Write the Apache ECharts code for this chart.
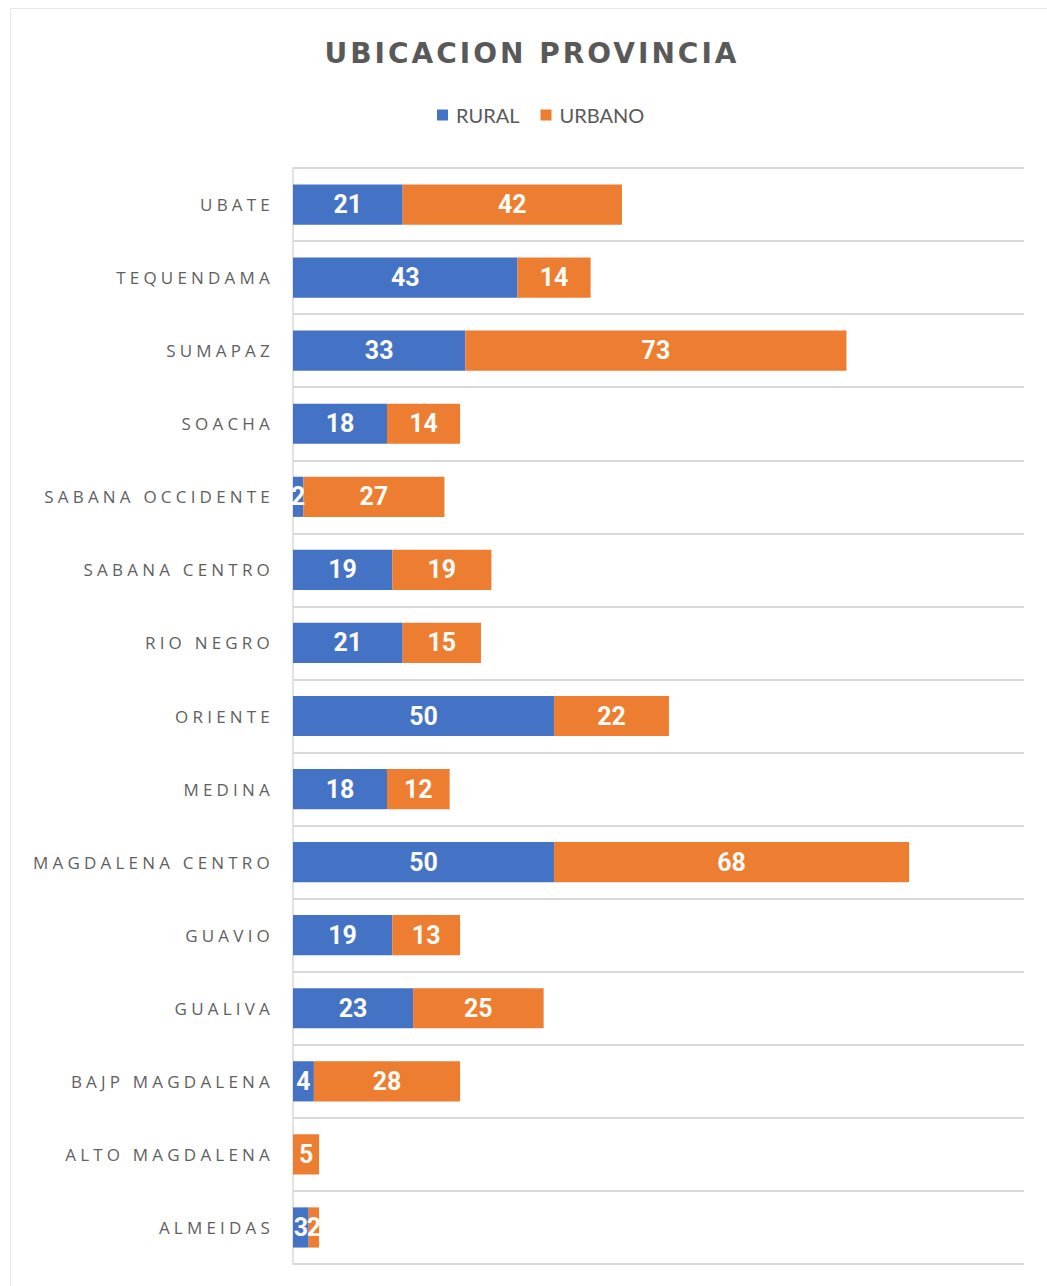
<!DOCTYPE html>
<html>
<head>
<meta charset="utf-8">
<script src="https://cdn.jsdelivr.net/npm/echarts@6/dist/echarts.min.js"></script>
<style>
html,body{margin:0;padding:0;background:#fff;}
#frame{position:absolute;left:10px;top:8px;width:1040px;height:1280px;border:1px solid #e6e6e6;box-sizing:border-box;}
#chart{position:absolute;left:0;top:0;width:1047px;height:1286px;}
#chart text[style*="Open Sans"]{letter-spacing:4.2px;}
#chart text[style*="DejaVu Sans"]{letter-spacing:3px;}
</style>
</head>
<body>
<div id="frame"></div>
<div id="chart"></div>
<script>
const categories = ["ALMEIDAS","ALTO MAGDALENA","BAJP MAGDALENA","GUALIVA","GUAVIO","MAGDALENA CENTRO","MEDINA","ORIENTE","RIO NEGRO","SABANA CENTRO","SABANA OCCIDENTE","SOACHA","SUMAPAZ","TEQUENDAMA","UBATE"];
const rural = [3,0,4,23,19,50,18,50,21,19,2,18,33,43,21];
const urbano = [2,5,28,25,13,68,12,22,15,19,27,14,73,14,42];

const chart = echarts.init(document.getElementById('chart'), null, {renderer: 'svg'});
const labelStyle = {
  show: true,
  position: 'inside',
  color: '#fbfbf5',
  fontSize: 25,
  fontWeight: 'bold',
  fontFamily: '"Liberation Sans Narrow","Arial Narrow",Roboto,sans-serif',
  formatter: p => (p.value === 0 ? '' : String(p.value))
};
chart.setOption({
  animation: false,
  backgroundColor: 'transparent',
  title: {
    text: 'UBICACION PROVINCIA',
    left: 527, top: 34, textAlign: 'center',
    textStyle: {color: '#595959', fontSize: 28, fontWeight: 'bold', fontFamily: '"DejaVu Sans",sans-serif'}
  },
  legend: {
    data: ['RURAL','URBANO'],
    left: 432, top: 100,
    itemWidth: 11, itemHeight: 11, itemGap: 21,
    icon: 'rect',
    textStyle: {color: '#595959', fontSize: 20, fontFamily: 'Lato,"Liberation Sans",sans-serif', padding: [0,0,0,3]}
  },
  grid: {left: 293, right: 23, top: 168, bottom: 22, containLabel: false},
  xAxis: {
    type: 'value', min: 0, max: 140,
    show: false,
    splitLine: {show: false}
  },
  yAxis: {
    type: 'category',
    data: categories,
    axisLine: {show: true, lineStyle: {color: '#d9d9d9', width: 1.5}},
    axisTick: {show: false},
    splitLine: {show: true, lineStyle: {color: '#d9d9d9', width: 2}},
    axisLabel: {
      margin: 19, color: '#5f5f5f', fontSize: 17,
      fontFamily: '"Open Sans",sans-serif'
    }
  },
  series: [
    {name: 'RURAL', type: 'bar', stack: 'total', data: rural, barCategoryGap: '45%',
     itemStyle: {color: '#4472C4'}, label: labelStyle},
    {name: 'URBANO', type: 'bar', stack: 'total', data: urbano, barCategoryGap: '45%',
     itemStyle: {color: '#ED7D31'}, label: labelStyle}
  ]
});
</script>
</body>
</html>
